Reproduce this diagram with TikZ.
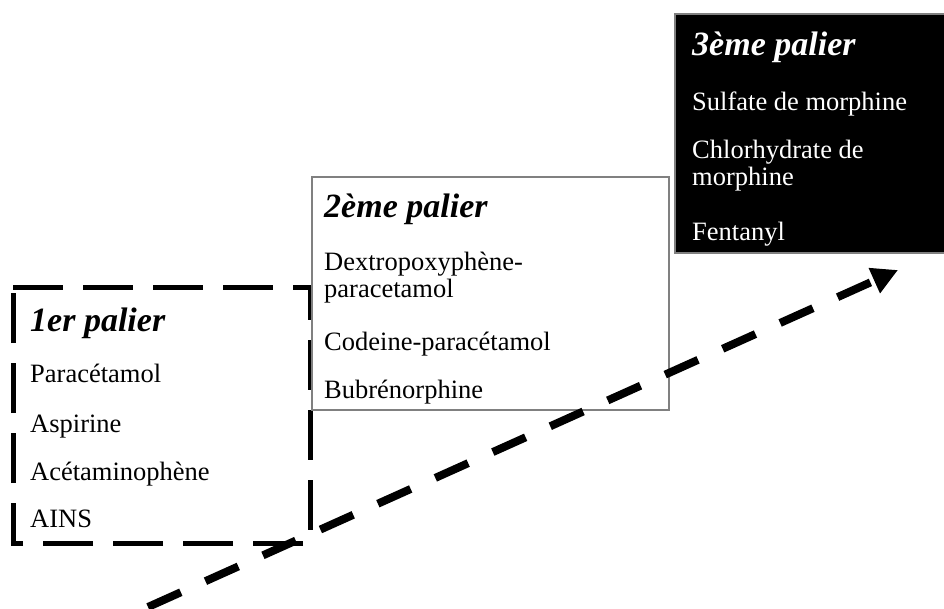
\documentclass[tikz,border=0pt]{standalone}
\usepackage{fontspec}
\setmainfont{Liberation Serif}
\usetikzlibrary{arrows.meta}

\tikzset{
  paltitle/.style={anchor=base west, inner sep=0pt, font=\fontsize{34}{34}\selectfont\bfseries\itshape},
  drug/.style={anchor=base west, inner sep=0pt, align=left, font=\fontsize{26.5}{27}\selectfont},
  thinframe/.style={draw=gray, line width=1.5pt},
}

\begin{document}
\begin{tikzpicture}[x=1pt, y=-1pt]
\useasboundingbox (0,0) rectangle (944,608);

  % first step, dashed frame
  \draw[line width=5pt, dash pattern=on 50pt off 20pt] (13,287) -- (310,287) -- (310,543) -- (13,543) -- cycle;
  \node[paltitle] (t1) at (30,331) {1er palier};
  \node[drug] (p1) at (30,382) {Paracétamol};
  \node[drug] (p2) at (30,432) {Aspirine};
  \node[drug] (p3) at (30,480) {Acétaminophène};
  \node[drug] (p4) at (30,527) {AINS};

  % second step
  \draw[thinframe] (312,177) rectangle (669,410);
  \node[paltitle] (t2) at (324,217) {2ème palier};
  \node[drug] (d1) at (324,297) {Dextropoxyphène-\\paracetamol};
  \node[drug] (d2) at (324,350) {Codeine-paracétamol};
  \node[drug] (d3) at (324,398) {Bubrénorphine};

  % third step, black box
  \draw[thinframe, fill=black] (675,14) rectangle (950,253);
  \node[paltitle, text=white] (t3) at (692,55) {3ème palier};
  \node[drug, text=white] (m1) at (692,110) {Sulfate de morphine};
  \node[drug, text=white] (m2) at (692,185) {Chlorhydrate de\\morphine};
  \node[drug, text=white] (m3) at (692,240) {Fentanyl};

  \coordinate (start) at (148,607);
  \coordinate (tip) at (898,270);
  \draw[line width=8pt, dash pattern=on 36pt off 27pt, -{Triangle[length=26pt, width=26pt]}] (start) -- (tip);
\end{tikzpicture}
\end{document}
